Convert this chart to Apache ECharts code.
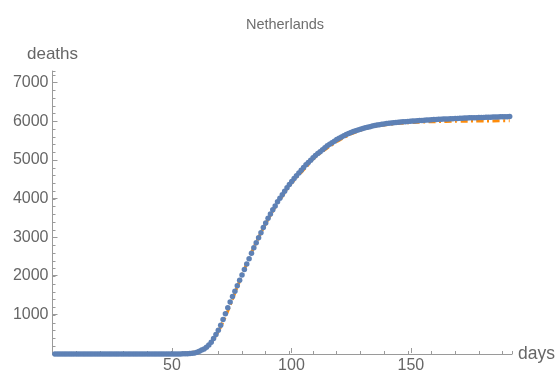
<!DOCTYPE html>
<html>
<head>
<meta charset="utf-8">
<script src="https://cdn.jsdelivr.net/npm/echarts@6/dist/echarts.min.js"></script>
<style>html,body{margin:0;padding:0;background:#fff}#c{width:558px;height:374px}</style>
</head>
<body>
<div id="c"></div>
<script>
const titleText = "Netherlands";
const xName = "days";
const yName = "deaths";
const xTickLabels = [50, 100, 150];
const yTickLabels = [1000, 2000, 3000, 4000, 5000, 6000, 7000];

// observed cumulative deaths, day 1 .. 193
const deathsObserved = [
  0,0,0,0,0,0,0,0,0,0, 0,0,0,0,0,0,0,0,0,0,
  0,0,0,0,0,0,0,0,0,0, 0,0,0,0,0,0,0,0,0,0,
  0,0,0,0,0,0,0,0,0,0,
  1,1,2,3,4,6,9,13,19,28,
  45,70,100,130,175,230,305,400,500,610,
  740,890,1040,1190,1340,1480,1620,1760,1900,2040,
  2180,2320,2460,2600,2740,2870,3000,3130,3260,3380,
  3500,3610,3720,3820,3930,4020,4110,4200,4290,4370,
  4450,4530,4600,4670,4740,4810,4880,4940,5000,5060,
  5120,5170,5220,5270,5320,5370,5410,5450,5490,5530,
  5565,5600,5630,5660,5690,5715,5740,5760,5780,5800,
  5820,5835,5850,5865,5880,5893,5905,5915,5925,5935,
  5943,5951,5958,5965,5971,5977,5983,5988,5993,5998,
  6003,6008,6013,6018,6022,6026,6030,6034,6038,6042,
  6046,6050,6053,6056,6059,6062,6065,6068,6071,6074,
  6077,6080,6083,6086,6089,6091,6093,6095,6097,6099,
  6101,6103,6105,6107,6109,6111,6113,6115,6117,6119,
  6121,6123,6125
];

// fitted curve (days, values)
const fitDays = [48,50,52,54,56,58,60,62,64,66,68,70,72,74,76,78,80,82,84,86,88,90,92,94,96,98,100,102,104,106,108,110,112,114,116,118,120,122,124,126,128,130,132,134,136,138,140,144,148,152,156,160,166,172,180,186,193];
const fitDeaths = [4,6,10,15,22,35,55,90,145,240,380,580,830,1110,1420,1730,2030,2330,2620,2880,3130,3360,3580,3790,3980,4160,4340,4480,4620,4750,4890,5030,5130,5225,5315,5400,5480,5550,5615,5675,5725,5770,5810,5845,5870,5890,5905,5935,5955,5970,5982,5990,5998,6004,6010,6013,6015];

const obsData = deathsObserved.map((v, i) => [i + 1, v]);
const fitData = fitDays.map((d, i) => [d, fitDeaths[i]]);

const FONT = '"Liberation Sans", Arial, sans-serif';
const axisColor = '#9a9a9a';
const labelColor = '#666666';

const chart = echarts.init(document.getElementById('c'), null, {renderer: 'canvas'});
chart.setOption({
  animation: false,
  backgroundColor: '#ffffff',
  title: {
    text: titleText, left: 280, top: 12, textAlign: 'center',
    textStyle: {fontFamily: FONT, fontSize: 14.5, fontWeight: 'normal', color: '#6e6e6e'}
  },
  grid: [
    {left: 52.5, right: 42, top: 71, bottom: 20},
    {left: 52.5, right: 147.1, top: 82.6, bottom: 20}
  ],
  xAxis: [
    {
      type: 'value', gridIndex: 0, min: 0, max: 194, interval: 10,
      name: xName, nameLocation: 'end', nameGap: 6,
      nameTextStyle: {fontFamily: FONT, fontSize: 17.5, color: labelColor, verticalAlign: 'middle', padding: [2, 0, 0, 0]},
      axisLine: {show: true, lineStyle: {color: axisColor, width: 1}},
      axisTick: {show: true, inside: true, length: 3, lineStyle: {color: axisColor}},
      axisLabel: {show: false},
      splitLine: {show: false}
    },
    {
      type: 'value', gridIndex: 1, min: 0, max: 150, interval: 50,
      axisLine: {show: false},
      axisTick: {show: true, inside: true, length: 5, lineStyle: {color: axisColor}},
      axisLabel: {
        show: true, margin: 5, fontFamily: FONT, fontSize: 16, color: labelColor,
        formatter: v => (xTickLabels.indexOf(v) >= 0 ? String(v) : '')
      },
      splitLine: {show: false}
    }
  ],
  yAxis: [
    {
      type: 'value', gridIndex: 0, min: 0, max: 7300, interval: 200,
      name: yName, nameLocation: 'end', nameGap: 8,
      nameTextStyle: {fontFamily: FONT, fontSize: 17, color: labelColor, align: 'center'},
      axisLine: {show: true, lineStyle: {color: axisColor, width: 1}},
      axisTick: {show: true, inside: true, length: 3, lineStyle: {color: axisColor}},
      axisLabel: {show: false},
      splitLine: {show: false}
    },
    {
      type: 'value', gridIndex: 1, min: 0, max: 7000, interval: 1000,
      axisLine: {show: false},
      axisTick: {show: true, inside: true, length: 5, lineStyle: {color: axisColor}},
      axisLabel: {
        show: true, margin: 4, fontFamily: FONT, fontSize: 16, color: labelColor,
        formatter: v => (yTickLabels.indexOf(v) >= 0 ? String(v) : '')
      },
      splitLine: {show: false}
    }
  ],
  series: [
    {
      type: 'line', xAxisIndex: 0, yAxisIndex: 0, data: fitData, smooth: true,
      showSymbol: false, z: 2,
      lineStyle: {color: '#FF8C0A', width: 3, type: [7, 3.5, 2, 3.5], cap: 'butt'}
    },
    {
      type: 'scatter', xAxisIndex: 0, yAxisIndex: 0, data: obsData,
      symbol: 'circle', symbolSize: 5.5, z: 3,
      itemStyle: {color: '#5E81B5', opacity: 1}
    }
  ]
});
</script>
</body>
</html>
